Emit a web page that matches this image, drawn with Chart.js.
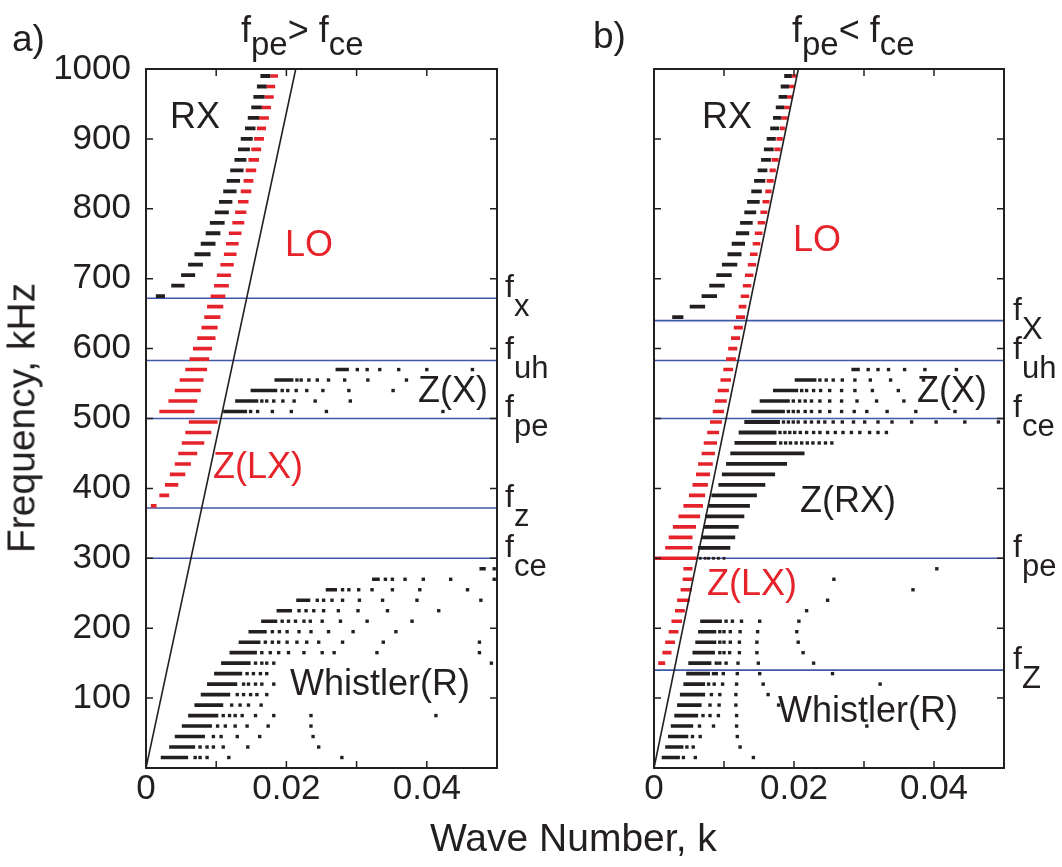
<!DOCTYPE html>
<html>
<head>
<meta charset="utf-8">
<script src="https://cdn.jsdelivr.net/npm/chart.js@4.4.1/dist/chart.umd.min.js"></script>
<style>
  html, body { margin: 0; padding: 0; background: #fff; }
  #page { position: relative; width: 1062px; height: 867px; overflow: hidden;
          font-family: "Liberation Sans", Arial, Helvetica, sans-serif; color: #231f20; }
  .pane { position: absolute; top: 0; width: 531px; height: 867px; }
  #pa { left: 0; }
  #pb { left: 531px; }
  .lbl { position: absolute; white-space: nowrap; line-height: 1; }
  .lbl .s { position: relative; }
</style>
</head>
<body>
<div id="page">
  <div class="pane" id="pa"><canvas id="ca"></canvas></div>
  <div class="pane" id="pb"><canvas id="cb"></canvas></div>
</div>
<script>
// ---- data: wave number k (1/m) against frequency f (kHz) ----
// rows are [f, k start, k end, [single points to the right]]
const K_MAX = 0.05;
const F_MAX = 1000;
const X_LABELED = [0, 0.02, 0.04];

// panel a) fpe > fce
const A_LIGHT_K = [0, 0.02133];
const A_LIGHT_F = [0, 1000];
const A_LINES = [[672, 'x'], [583, 'uh'], [500, 'pe'], [372, 'z'], [300, 'ce']];

const A_RX = [
  [990, .0163, .0177], [975, .0158, .0172], [960, .0153, .0169], [945, .0150, .0165],
  [930, .0145, .0161], [915, .0141, .0156], [900, .0135, .0152], [885, .0131, .0148],
  [870, .0126, .0143], [855, .0120, .0139], [840, .0115, .0134], [825, .0110, .0129],
  [810, .0104, .0123], [795, .0098, .0118], [780, .0091, .0112], [765, .0085, .0106],
  [750, .0078, .0099], [735, .0069, .0092], [720, .0060, .0081], [705, .0050, .0070],
  [690, .0036, .0055], [675, .0014, .0027]
];
const A_LO = [
  [990, .0177, .0188], [975, .0172, .0184], [960, .0169, .0182], [945, .0165, .0178],
  [930, .0161, .0175], [915, .0158, .0171], [900, .0154, .0168], [885, .0150, .0164],
  [870, .0146, .0161], [855, .0142, .0157], [840, .0139, .0153], [825, .0135, .0150],
  [810, .0131, .0146], [795, .0127, .0143], [780, .0123, .0140], [765, .0118, .0136],
  [750, .0114, .0132], [735, .0111, .0129], [720, .0106, .0125], [705, .0101, .0121],
  [690, .0097, .0118], [675, .0092, .0113], [660, .0087, .0110], [645, .0083, .0106],
  [630, .0079, .0102], [615, .0073, .0099], [600, .0067, .0094], [585, .0062, .0090],
  [570, .0056, .0087], [555, .0048, .0082], [540, .0041, .0078], [525, .0032, .0073],
  [510, .0019, .0069]
];
const A_ZLX = [
  [495, .0061, .0102], [480, .0056, .0093], [465, .0051, .0083], [450, .0046, .0073],
  [435, .0041, .0064], [420, .0034, .0056], [405, .0027, .0046], [390, .0019, .0033],
  [375, .0007, .0015]
];
const A_ZX = [
  [570, .0270, .0289, [.0301, .0315, .0333, .0360, .0400, .0465]],
  [555, .0183, .0210, [.0215, .0221, .0232, .0244, .0260, .0283, .0316, .0371]],
  [540, .0149, .0187, [.0194, .0202, .0214, .0229, .0252, .0289, .0352]],
  [525, .0127, .0160, [.0165, .0172, .0182, .0195, .0211, .0241, .0291]],
  [510, .0110, .0144, [.0149, .0159, .0180, .0207, .0257, .0423]]
];
const A_WHISTLER = [
  [285, .0475, .0484, [.0496]],
  [270, .0322, .0333, [.0341, .0351, .0369, .0395, .0434, .0496]],
  [255, .0256, .0272, [.0280, .0289, .0303, .0322, .0351, .0390, .0458]],
  [240, .0214, .0234, [.0244, .0253, .0265, .0280, .0304, .0337, .0386, .0477]],
  [225, .0186, .0208, [.0218, .0228, .0239, .0253, .0274, .0302, .0344, .0417]],
  [210, .0164, .0187, [.0194, .0203, .0213, .0225, .0234, .0251, .0277, .0315, .0379]],
  [195, .0146, .0172, [.0180, .0190, .0201, .0218, .0235, .0260, .0295, .0356]],
  [180, .0132, .0163, [.0170, .0180, .0189, .0201, .0215, .0229, .0246, .0280, .0338, .0475]],
  [165, .0119, .0158, [.0165, .0177, .0189, .0203, .0225, .0251, .0268, .0329, .0475]],
  [150, .0107, .0149, [.0156, .0165, .0172, .0182, .0492]],
  [135, .0097, .0137, [.0144, .0153, .0163, .0172]],
  [120, .0087, .0130, [.0139, .0146, .0156, .0165, .0182]],
  [105, .0078, .0120, [.0130, .0139, .0149, .0158, .0172]],
  [90, .0069, .0110, [.0122, .0134, .0146, .0164]],
  [75, .0060, .0103, [.0110, .0119, .0127, .0137, .0156, .0182, .0235, .0413]],
  [60, .0051, .0094, [.0102, .0113, .0127, .0144, .0174, .0235]],
  [45, .0041, .0084, [.0096, .0107, .0130, .0162, .0238]],
  [30, .0033, .0070, [.0077, .0087, .0096, .0110, .0145, .0246]],
  [15, .0021, .0060, [.0070, .0077, .0087, .0118, .0279]]
];

// panel b) fpe < fce
const B_LIGHT_K = [0, 0.02062];
const B_LIGHT_F = [0, 1000];
const B_LINES = [[640, 'X'], [583, 'uh'], [500, 'ce'], [300, 'pe'], [140, 'Z']];

const B_RX = [
  [990, .0186, .0197], [975, .0181, .0193], [960, .0178, .0190], [945, .0174, .0186],
  [930, .0170, .0182], [915, .0166, .0179], [900, .0161, .0174], [885, .0157, .0171],
  [870, .0153, .0167], [855, .0148, .0162], [840, .0143, .0159], [825, .0139, .0154],
  [810, .0133, .0151], [795, .0129, .0146], [780, .0123, .0141], [765, .0117, .0136],
  [750, .0111, .0130], [735, .0105, .0125], [720, .0097, .0119], [705, .0089, .0111],
  [690, .0079, .0101], [675, .0068, .0090], [660, .0051, .0073], [645, .0026, .0042]
];
const B_LO = [
  [990, .0197, .0204], [975, .0193, .0200], [960, .0190, .0198], [945, .0186, .0194],
  [930, .0182, .0191], [915, .0180, .0187], [900, .0175, .0184], [885, .0172, .0181],
  [870, .0168, .0178], [855, .0165, .0174], [840, .0161, .0171], [825, .0159, .0168],
  [810, .0155, .0165], [795, .0152, .0162], [780, .0148, .0159], [765, .0144, .0155],
  [750, .0141, .0152], [735, .0137, .0148], [720, .0134, .0146], [705, .0130, .0142],
  [690, .0127, .0139], [675, .0124, .0136], [660, .0121, .0132], [645, .0117, .0130],
  [630, .0114, .0127], [615, .0110, .0123], [600, .0106, .0119], [585, .0103, .0117],
  [570, .0099, .0113], [555, .0095, .0110], [540, .0091, .0107], [525, .0087, .0104],
  [510, .0084, .0100], [495, .0080, .0097], [480, .0076, .0093], [465, .0071, .0090],
  [450, .0068, .0087], [435, .0063, .0084], [420, .0060, .0080], [405, .0055, .0077],
  [390, .0050, .0073], [375, .0042, .0070], [360, .0035, .0066], [345, .0027, .0060],
  [330, .0021, .0055], [315, .0016, .0055], [300, .0001, .0061]
];
const B_ZLX = [
  [285, .0042, .0055], [270, .0041, .0055], [255, .0038, .0054], [240, .0033, .0051],
  [225, .0030, .0044], [210, .0025, .0040], [195, .0021, .0035], [180, .0016, .0030],
  [165, .0012, .0025], [150, .0006, .0016]
];
const B_ZX = [
  [570, .0282, .0294, [.0306, .0320, .0335, .0358, .0387, .0432]],
  [555, .0201, .0232, [.0237, .0246, .0256, .0269, .0287, .0309, .0338, .0385]],
  [540, .0170, .0206, [.0211, .0218, .0228, .0238, .0251, .0268, .0287, .0312, .0349]],
  [525, .0151, .0194, [.0199, .0208, .0216, .0225, .0237, .0251, .0268, .0290, .0318, .0357]],
  [510, .0139, .0187, [.0192, .0199, .0206, .0216, .0225, .0237, .0251, .0268, .0286, .0304, .0333, .0374, .0430]]
];
const B_ZRX = [
  [495, .0129, .0180, [.0185, .0192, .0199, .0206, .0216, .0225, .0235, .0244, .0256, .0269,
                       .0285, .0301, .0320, .0340, .0368, .0403, .0444, .0492]],
  [480, .0121, .0175, [.0180, .0187, .0194, .0201, .0209, .0218, .0228, .0237, .0248, .0259,
                       .0270, .0282, .0294, .0308, .0320, .0332]],
  [465, .0115, .0175, [.0181, .0188, .0195, .0203, .0211, .0219, .0227, .0236, .0245, .0254]],
  [450, .0109, .0215], [435, .0103, .0190], [420, .0097, .0173], [405, .0092, .0159],
  [390, .0082, .0147], [375, .0078, .0137], [360, .0073, .0129], [345, .0071, .0121],
  [330, .0068, .0116], [315, .0063, .0109]
];
const B_ZRX_EDGE = [[300, [.0066, .0073, .0078, .0085, .0092, .0100]]];
const B_WHISTLER = [
  [285, null, null, [.0404]],
  [270, null, null, [.0257]],
  [255, null, null, [.0370]],
  [240, null, null, [.0248]],
  [225, null, null, [.0218]],
  [210, .0066, .0097, [.0103, .0112, .0125, .0151, .0207]],
  [195, .0063, .0089, [.0094, .0100, .0109, .0123, .0148, .0204]],
  [180, .0059, .0089, [.0094, .0100, .0109, .0122, .0147, .0206]],
  [165, .0055, .0087, [.0094, .0100, .0108, .0122, .0147, .0213]],
  [150, .0049, .0082, [.0089, .0094, .0103, .0120, .0149, .0228]],
  [135, .0046, .0080, [.0085, .0089, .0099, .0119, .0151, .0255]],
  [120, .0042, .0073, [.0078, .0086, .0098, .0118, .0156, .0323]],
  [105, .0037, .0073, [.0082, .0094, .0117, .0163]],
  [90, .0033, .0068, [.0080, .0093, .0117, .0178]],
  [75, .0029, .0063, [.0070, .0080, .0092, .0118]],
  [60, .0024, .0056, [.0065, .0085, .0118, .0304]],
  [45, .0020, .0049, [.0055, .0066, .0119]],
  [30, .0016, .0042, [.0047, .0056, .0123]],
  [15, .0011, .0037, [.0042, .0059, .0142]]
];

// ---- styles ----
const FONT = '"Liberation Sans", Arial, Helvetica, sans-serif';
const INK = '#231f20';
const RED = '#e6232b';
const BLUE = '#3f58a8';

function dashSet(rows, color, width, order) {
  const pts = [];
  rows.forEach(r => {
    if (r[1] == null) return;
    pts.push({ x: r[1], y: r[0] }, { x: r[2], y: r[0] }, { x: r[2], y: null });
  });
  return {
    data: pts, showLine: true, borderColor: color, borderWidth: width,
    borderCapStyle: 'butt', pointRadius: 0, pointHoverRadius: 0, spanGaps: false, order
  };
}

function dotSet(rows, color, order) {
  const pts = [];
  rows.forEach(r => (r[3] || []).forEach(k => pts.push({ x: k, y: r[0] })));
  return {
    data: pts, showLine: false, pointStyle: 'rect', pointRadius: 2.4,
    pointBackgroundColor: color, pointBorderWidth: 0, order
  };
}

function edgeDots(rows, color, order) {
  const pts = [];
  rows.forEach(([f, ks]) => ks.forEach(k => pts.push({ x: k, y: f })));
  return {
    data: pts, showLine: false, pointStyle: 'rect', pointRadius: 2.0,
    pointBackgroundColor: color, pointBorderWidth: 0, order
  };
}

function hLines(levels) {
  const pts = [];
  levels.forEach(([f]) => pts.push({ x: 0, y: f }, { x: K_MAX, y: f }, { x: K_MAX, y: null }));
  return {
    data: pts, showLine: true, borderColor: BLUE, borderWidth: 1.6,
    pointRadius: 0, spanGaps: false, order: 9
  };
}

function lightLine(ks, fs) {
  return {
    data: ks.map((k, i) => ({ x: k, y: fs[i] })), showLine: true, borderColor: INK,
    borderWidth: 1.6, pointRadius: 0, order: 0
  };
}

// inward ticks + box, like the original plot frame
const framePlugin = {
  id: 'frame',
  afterDatasetsDraw(chart) {
    const { ctx, chartArea: { left, right, top, bottom }, scales: { x, y } } = chart;
    const TL = 7;
    ctx.save();
    ctx.strokeStyle = INK;
    ctx.lineWidth = 1.5;
    ctx.beginPath();
    x.ticks.forEach(t => {
      if (t.value <= 0 || t.value >= K_MAX - 1e-9) return;
      const px = x.getPixelForValue(t.value);
      ctx.moveTo(px, bottom); ctx.lineTo(px, bottom - TL);
      ctx.moveTo(px, top); ctx.lineTo(px, top + TL);
    });
    y.ticks.forEach(t => {
      if (t.value <= 0 || t.value >= F_MAX) return;
      const py = y.getPixelForValue(t.value);
      ctx.moveTo(left, py); ctx.lineTo(left + TL, py);
      ctx.moveTo(right, py); ctx.lineTo(right - TL, py);
    });
    ctx.stroke();
    ctx.lineWidth = 2;
    ctx.strokeRect(left, top, right - left, bottom - top);
    ctx.restore();
  }
};

function makeChart(canvas, datasets, yWidth, padRight, yLabels) {
  return new Chart(canvas, {
    type: 'scatter',
    data: { datasets },
    options: {
      responsive: true,
      maintainAspectRatio: false,
      animation: false,
      events: [],
      layout: { padding: { top: 69, right: padRight, bottom: 0, left: 0 } },
      plugins: { legend: { display: false }, tooltip: { enabled: false } },
      scales: {
        x: {
          type: 'linear', min: 0, max: K_MAX,
          afterFit: s => { s.height = 99; },
          grid: { display: false, drawTicks: false },
          border: { display: false },
          ticks: {
            stepSize: 0.01, autoSkip: false, maxRotation: 0, padding: 0,
            color: INK, font: { family: FONT, size: 35 },
            callback: v => X_LABELED.some(l => Math.abs(l - v) < 1e-9) ? String(+v.toFixed(2)) : ''
          }
        },
        y: {
          type: 'linear', min: 0, max: F_MAX,
          afterFit: s => { s.width = yWidth; },
          grid: { display: false, drawTicks: false },
          border: { display: false },
          ticks: {
            stepSize: 100, padding: 15, autoSkip: false,
            color: INK, font: { family: FONT, size: 35 },
            callback: v => (yLabels && v > 0) ? String(v) : ''
          }
        }
      }
    },
    plugins: [framePlugin]
  });
}

const chartA = makeChart(document.getElementById('ca'), [
  lightLine(A_LIGHT_K, A_LIGHT_F),
  dashSet(A_RX, INK, 3.8, 2),
  dashSet(A_LO, RED, 3.6, 3),
  dashSet(A_ZLX, RED, 3.6, 3),
  dashSet(A_ZX, INK, 3.6, 2),
  dotSet(A_ZX, INK, 2),
  dashSet(A_WHISTLER, INK, 3.6, 2),
  dotSet(A_WHISTLER, INK, 2),
  hLines(A_LINES)
], 146, 34, true);

const chartB = makeChart(document.getElementById('cb'), [
  lightLine(B_LIGHT_K, B_LIGHT_F),
  dashSet(B_RX, INK, 3.8, 2),
  dashSet(B_LO, RED, 3.6, 3),
  dashSet(B_ZLX, RED, 3.6, 3),
  dashSet(B_ZX, INK, 3.6, 2),
  dotSet(B_ZX, INK, 2),
  dashSet(B_ZRX, INK, 3.8, 2),
  dotSet(B_ZRX, INK, 2),
  edgeDots(B_ZRX_EDGE, INK, 2),
  dashSet(B_WHISTLER, INK, 3.6, 2),
  dotSet(B_WHISTLER, INK, 2),
  hLines(B_LINES)
], 123, 58, false);

// ---- text ----
const page = document.getElementById('page');

function addText(html, left, baseline, size, color, subDrop, subSize) {
  const el = document.createElement('div');
  el.className = 'lbl';
  el.style.left = left + 'px';
  el.style.top = (baseline - 0.8465 * size) + 'px';
  el.style.fontSize = size + 'px';
  el.style.color = color || INK;
  el.innerHTML = html;
  el.querySelectorAll('.s').forEach(s => {
    s.style.top = (subDrop || 0) + 'px';
    s.style.fontSize = (subSize || size) + 'px';
  });
  page.appendChild(el);
  return el;
}

const sub = t => 'f<span class="s">' + t + '</span>';

addText('a)', 12, 51, 37);
addText(sub('pe') + '&gt; ' + sub('ce'), 241, 42, 36, INK, 13, 33);
addText('b)', 593, 48, 37);
addText(sub('pe') + '&lt; ' + sub('ce'), 792, 42, 36, INK, 13, 33);

addText('Wave Number, k', 430, 851, 39);
const yt = addText('Frequency, kHz', 0, 0, 39);
yt.style.left = '21px';
yt.style.top = '418px';
yt.style.transform = 'translate(-50%, -50%) rotate(-90deg)';

// region names
[
  ['RX', 170, 128, INK], ['LO', 285, 256, RED], ['Z(X)', 418, 402, INK],
  ['Z(LX)', 213, 478, RED], ['Whistler(R)', 290, 695, INK],
  ['RX', 702, 128, INK], ['LO', 793, 251, RED], ['Z(X)', 917, 402, INK],
  ['Z(RX)', 800, 512, INK], ['Z(LX)', 707, 595, RED], ['Whistler(R)', 778, 722, INK]
].forEach(([t, x, y, c]) => addText(t, x, y, 36, c));

// characteristic frequencies beside the right axis, placed from the y scale
function sideLabels(chart, levels, left) {
  const y = chart.scales.y;
  levels.forEach(([f, name]) => {
    addText(sub(name), left, y.getPixelForValue(f) - 1, 32, INK, 19, 31);
  });
}
sideLabels(chartA, A_LINES, 505);
sideLabels(chartB, B_LINES, 1013);
</script>
</body>
</html>
